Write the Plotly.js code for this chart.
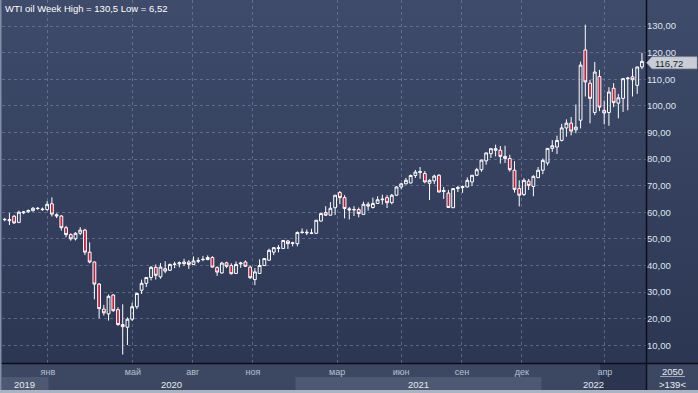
<!DOCTYPE html>
<html><head><meta charset="utf-8">
<script src="https://cdn.plot.ly/plotly-3.0.1.min.js"></script>
<style>
html,body{margin:0;padding:0;background:#2c3752;}
#chart{width:698px;height:393px;background:linear-gradient(to bottom,#3e4b6a 0%,#2a3551 100%);}
</style></head><body><div id="chart"></div>
<script>
const instrument = 'WTI oil';
const weeks = [
'2019-10-21','2019-10-28','2019-11-04','2019-11-11','2019-11-18','2019-11-25','2019-12-02','2019-12-09','2019-12-16','2019-12-23','2019-12-30',
'2020-01-06','2020-01-13','2020-01-20','2020-01-27','2020-02-03','2020-02-10','2020-02-17','2020-02-24','2020-03-02','2020-03-09',
'2020-03-16','2020-03-23','2020-03-30','2020-04-06','2020-04-13','2020-04-20','2020-04-27','2020-05-04','2020-05-11','2020-05-18',
'2020-05-25','2020-06-01','2020-06-08','2020-06-15','2020-06-22','2020-06-29','2020-07-06','2020-07-13','2020-07-20','2020-07-27',
'2020-08-03','2020-08-10','2020-08-17','2020-08-24','2020-08-31','2020-09-07','2020-09-14','2020-09-21','2020-09-28','2020-10-05',
'2020-10-12','2020-10-19','2020-10-26','2020-11-02','2020-11-09','2020-11-16','2020-11-23','2020-11-30','2020-12-07','2020-12-14',
'2020-12-21','2020-12-28','2021-01-04','2021-01-11','2021-01-18','2021-01-25','2021-02-01','2021-02-08','2021-02-15','2021-02-22',
'2021-03-01','2021-03-08','2021-03-15','2021-03-22','2021-03-29','2021-04-05','2021-04-12','2021-04-19','2021-04-26','2021-05-03',
'2021-05-10','2021-05-17','2021-05-24','2021-05-31','2021-06-07','2021-06-14','2021-06-21','2021-06-28','2021-07-05','2021-07-12',
'2021-07-19','2021-07-26','2021-08-02','2021-08-09','2021-08-16','2021-08-23','2021-08-30','2021-09-06','2021-09-13','2021-09-20',
'2021-09-27','2021-10-04','2021-10-11','2021-10-18','2021-10-25','2021-11-01','2021-11-08','2021-11-15','2021-11-22','2021-11-29',
'2021-12-06','2021-12-13','2021-12-20','2021-12-27','2022-01-03','2022-01-10','2022-01-17','2022-01-24','2022-01-31','2022-02-07',
'2022-02-14','2022-02-21','2022-02-28','2022-03-07','2022-03-14','2022-03-21','2022-03-28','2022-04-04','2022-04-11','2022-04-18',
'2022-04-25','2022-05-02','2022-05-09','2022-05-16','2022-05-23','2022-05-30'
];
const openP = [
56.8,57.2,56.8,58.5,56.2,59.8,60.2,60.6,61.5,61.2,61.0,
63.2,59.1,58.6,54.2,51.6,50.0,52.1,53.3,45.0,41.3,
33.0,23.6,21.8,28.9,23.4,17.8,16.8,19.8,24.5,30.7,
33.3,35.5,39.3,35.7,38.8,38.2,40.4,40.6,41.3,41.3,
40.4,41.6,42.2,42.2,43.0,39.2,37.2,41.0,40.0,37.0,
40.6,41.3,39.4,34.7,37.0,40.0,42.0,45.0,46.4,46.4,
49.2,48.3,48.2,52.4,52.5,52.2,52.1,56.7,59.9,58.9,
61.7,67.4,65.5,61.3,60.9,61.0,59.2,63.0,61.8,63.3,
64.7,65.5,63.6,66.4,69.5,70.7,71.0,73.8,74.9,74.6,
70.9,71.8,73.9,67.8,67.2,61.7,68.9,69.3,69.5,71.4,
73.9,76.0,79.3,82.0,83.9,83.3,80.2,80.2,75.8,68.9,
66.7,71.7,69.7,73.0,75.8,78.5,84.0,84.5,87.0,91.7,
93.5,91.0,94.6,121.0,108.5,97.5,111.0,98.3,97.5,106.6,
101.0,102.8,110.2,110.9,107.7,114.6
];
const highP = [
57.6,57.9,59.7,59.0,60.6,60.5,61.0,62.0,62.0,61.8,64.2,
65.6,59.6,58.9,54.9,52.1,52.5,54.4,53.8,48.7,41.5,
33.4,25.2,29.1,29.2,24.3,25.4,20.5,26.0,29.8,34.7,
35.6,39.8,40.4,40.9,41.6,40.7,41.4,41.5,42.5,42.0,
43.4,43.0,43.6,43.8,43.5,39.7,41.4,41.4,40.8,41.5,
41.4,41.9,39.9,39.0,42.3,42.6,46.3,46.9,47.7,49.6,
49.6,48.9,52.8,53.9,53.5,53.8,57.0,59.8,62.3,63.8,
66.4,68.0,66.4,62.0,62.3,61.8,64.0,63.9,65.5,66.0,
66.6,66.5,66.9,69.8,71.0,72.9,74.2,75.9,77.0,75.5,
72.4,74.1,74.3,69.5,68.4,69.0,69.9,70.0,73.1,74.0,
76.7,79.8,82.4,84.0,85.4,84.9,85.0,81.6,79.2,72.0,
72.8,72.5,73.9,77.0,80.2,84.1,87.1,88.8,93.2,94.9,
95.8,100.5,116.6,130.5,109.7,116.5,113.5,102.0,107.0,108.5,
104.5,110.4,110.9,114.0,114.7,119.9
];
const lowP = [
56.2,56.6,55.2,55.6,55.9,59.3,59.8,60.3,60.9,60.6,60.6,
58.4,57.8,53.1,50.6,49.3,49.4,51.4,43.9,40.8,27.3,
20.1,21.2,19.3,22.6,17.3,6.52,10.1,19.1,23.6,29.3,
31.9,34.4,34.7,35.0,37.1,37.9,39.0,39.3,39.8,38.7,
40.2,40.9,41.6,42.0,39.2,36.1,36.9,39.0,36.6,37.0,
39.1,39.5,34.9,32.6,36.8,39.8,41.8,43.9,44.9,46.2,
46.2,47.2,47.2,51.9,51.4,51.8,51.9,56.5,58.6,58.8,
59.0,63.1,57.7,57.3,58.6,58.1,59.2,60.6,61.4,63.3,
62.9,61.6,63.0,66.2,68.6,70.5,70.8,72.9,72.6,70.9,
64.6,70.6,67.5,65.0,61.7,61.6,67.6,67.3,69.4,69.9,
73.6,75.2,77.9,80.4,81.0,78.3,78.5,75.3,67.4,62.2,
66.1,68.4,66.0,73.0,74.3,77.6,82.7,81.9,86.6,88.4,
88.9,89.7,91.5,103.5,93.4,96.5,98.0,93.0,92.5,99.5,
95.3,97.7,98.3,103.5,104.5,113.8
];
const closeP = [
57.1,57.3,57.2,56.0,60.0,60.1,60.7,61.5,61.4,61.0,63.0,
59.3,58.6,54.2,51.6,50.0,52.1,53.3,45.0,41.3,33.0,
23.8,22.2,28.4,23.0,17.8,17.0,19.8,24.5,29.5,33.3,
35.5,39.3,36.3,39.4,37.9,40.4,40.5,41.0,40.7,40.4,
41.7,41.8,42.3,43.0,39.4,37.5,40.9,39.7,36.9,40.4,
40.9,39.7,35.4,37.6,40.0,42.6,45.7,46.7,46.6,49.4,
48.2,48.5,52.4,52.5,52.3,52.1,57.0,59.5,58.9,61.5,
66.4,65.5,61.4,60.9,61.0,59.5,63.0,62.3,63.3,64.7,
64.9,63.6,66.4,69.5,70.7,72.0,73.8,75.1,75.3,71.4,
72.0,73.6,67.6,68.2,61.8,68.9,69.3,69.7,72.0,73.9,
76.0,79.6,82.3,83.9,83.3,81.0,81.0,76.0,68.6,66.4,
72.0,70.1,73.5,75.8,79.5,84.0,85.0,87.0,91.7,93.5,
90.5,92.0,115.3,109.0,102.8,112.7,99.5,97.3,105.2,101.2,
103.0,110.2,110.4,109.8,114.6,116.72
];
const monthTickDates = ['2019-12-31','2020-05-05','2020-08-02','2020-10-30','2021-03-04','2021-06-07','2021-09-05','2021-12-03','2022-04-05'];
const monthTickLabels = ['янв','май','авг','ноя','мар','июн','сен','дек','апр'];
const yearLabels = ['2019','2020','2021','2022'];
const barCountText = ['2050','>139<'];

// ---------- layout helpers ----------
const W = 698, H = 393, ML = 2, MR = 52, MT = 0, MB = 30;
const PW = W - ML - MR, PH = H - MT - MB;
const px = x => (x - ML) / PW;          // page px -> paper x
const py = y => (H - MB - y) / PH;      // page px -> paper y
const xRange = ['2019-10-24', '2022-06-05'];
const yRange = [3.35, 139.77];
const unitPx = PH / (yRange[1] - yRange[0]);
const FONT = 'Liberation Sans, Arial, sans-serif';
const fmt = v => String(+v.toFixed(2)).replace('.', ',');

const hi = Math.max(...highP), lo = Math.min(...lowP);
const lastClose = closeP[closeP.length - 1];

const trace = {
  type: 'candlestick', x: weeks, open: openP, high: highP, low: lowP, close: closeP,
  increasing: {line: {color: '#ffffff', width: 1}, fillcolor: 'rgba(0,0,0,0)'},
  decreasing: {line: {color: '#ffffff', width: 1}, fillcolor: '#c41f3c'},
  whiskerwidth: 0, hoverinfo: 'skip', showlegend: false
};

const shapes = [];
shapes.push({type:'rect', xref:'paper', yref:'paper', x0:px(0), x1:px(W), y0:py(H), y1:py(363), fillcolor:'#3c4862', line:{width:0}, layer:'below'});
const yearBand = (y0d, y1d, col) => ({type:'rect', xref:'x', yref:'paper', x0:y0d, x1:y1d, y0:py(390), y1:py(377), fillcolor:col, line:{width:0}, layer:'below'});
shapes.push(yearBand(xRange[0], '2020-01-01', '#4d5973'));
shapes.push(yearBand('2021-01-01', '2022-01-01', '#4d5973'));
shapes.push({type:'rect', xref:'x', yref:'paper', x0:'2022-03-29', x1:xRange[1], y0:py(390), y1:py(363), fillcolor:'#2b3550', line:{width:0}, layer:'below'});
shapes.push({type:'rect', xref:'paper', yref:'paper', x0:px(646), x1:px(W), y0:py(390), y1:py(363), fillcolor:'#3c4862', line:{width:0}, layer:'below'});
shapes.push({type:'line', xref:'paper', yref:'paper', x0:px(660), x1:px(685), y0:py(376.5), y1:py(376.5), line:{color:'#9aa6ba', width:1}, layer:'above'});
shapes.push({type:'line', xref:'paper', yref:'paper', x0:px(0), x1:px(W), y0:py(363.5), y1:py(363.5), line:{color:'#0c0f16', width:1.5}, layer:'above'});
shapes.push({type:'line', xref:'paper', yref:'paper', x0:px(646.5), x1:px(646.5), y0:py(390), y1:py(0), line:{color:'#0c0f16', width:1.5}, layer:'above'});
shapes.push({type:'rect', xref:'paper', yref:'paper', x0:px(0), x1:px(1.5), y0:py(H), y1:py(0), fillcolor:'#8190a8', line:{width:0}, layer:'above'});
shapes.push({type:'rect', xref:'paper', yref:'paper', x0:px(0), x1:px(W), y0:py(H), y1:py(390), fillcolor:'#aab3c1', line:{width:0}, layer:'above'});
// price tag (drawn slightly below the close, as in the reference)
const off = 1.5 / unitPx, hh = 6 / unitPx, tagY = lastClose - off;
const tagPath = `M ${px(646.5)},${tagY} L ${px(652)},${tagY+hh} L ${px(697)},${tagY+hh} L ${px(697)},${tagY-hh} L ${px(652)},${tagY-hh} Z`;
shapes.push({type:'path', xref:'paper', yref:'y', path: tagPath, fillcolor:'#c9ced6', line:{color:'#9aa3b0', width:0.5}, layer:'above'});

const annotations = [];
annotations.push({xref:'paper', yref:'paper', x:px(3), y:py(1), xanchor:'left', yanchor:'top', showarrow:false,
  text:`${instrument} Week High = ${fmt(hi)} Low = ${fmt(lo)}`, font:{family:FONT, size:9.5, color:'#ffffff'}});
annotations.push({xref:'paper', yref:'y', x:px(653), y:tagY, xanchor:'left', yanchor:'middle', showarrow:false, yshift:-0.5,
  text: lastClose.toFixed(2).replace('.', ','), font:{family:FONT, size:9.5, color:'#1c1f26'}});
const t0 = new Date(xRange[0]).getTime(), t1 = new Date(xRange[1]).getTime();
yearLabels.forEach(yl => {
  const a = Math.max(t0, new Date(yl + '-01-01').getTime());
  const b = Math.min(t1, new Date((+yl + 1) + '-01-01').getTime());
  const mid = new Date((a + b) / 2).toISOString().slice(0, 10);
  annotations.push({xref:'x', yref:'paper', x:mid, y:py(384), xanchor:'center', yanchor:'middle', showarrow:false,
    text: yl, font:{family:FONT, size:9.5, color:'#e4e8ef'}});
});
annotations.push({xref:'paper', yref:'paper', x:px(672), y:py(371), xanchor:'center', yanchor:'middle', showarrow:false,
  text: barCountText[0], font:{family:FONT, size:9.5, color:'#e8ecf2'}});
annotations.push({xref:'paper', yref:'paper', x:px(672), y:py(384), xanchor:'center', yanchor:'middle', showarrow:false,
  text: barCountText[1], font:{family:FONT, size:9.5, color:'#e8ecf2'}});

const gridCol = 'rgba(135,150,180,0.5)';
const layout = {
  width: W, height: H,
  margin: {l: ML, r: MR, t: MT, b: MB, pad: 0, autoexpand: false},
  paper_bgcolor: 'rgba(0,0,0,0)', plot_bgcolor: 'rgba(0,0,0,0)',
  separators: ', ',
  boxgap: 0.15,
  showlegend: false,
  font: {family: FONT, size: 9.5, color: '#dfe4ec'},
  xaxis: {
    type: 'date', range: xRange, rangeslider: {visible: false},
    tickmode: 'array', tickvals: monthTickDates, ticktext: monthTickLabels,
    showgrid: true, gridcolor: gridCol, griddash: '3px,3px', gridwidth: 1,
    zeroline: false, showline: false, ticks: '', automargin: false,
    tickfont: {family: FONT, size: 9, color: '#b7c0d0'}, ticklabelstandoff: 2
  },
  yaxis: {
    side: 'right', range: yRange, tick0: 0, dtick: 10, tickformat: '.2f',
    showgrid: true, gridcolor: gridCol, griddash: '3px,3px', gridwidth: 1,
    zeroline: false, showline: false, ticks: '', automargin: false,
    tickfont: {family: FONT, size: 9.5, color: '#dfe4ec'}
  },
  shapes, annotations
};
Plotly.newPlot('chart', [trace], layout, {staticPlot: true, displayModeBar: false});
</script></body></html>
